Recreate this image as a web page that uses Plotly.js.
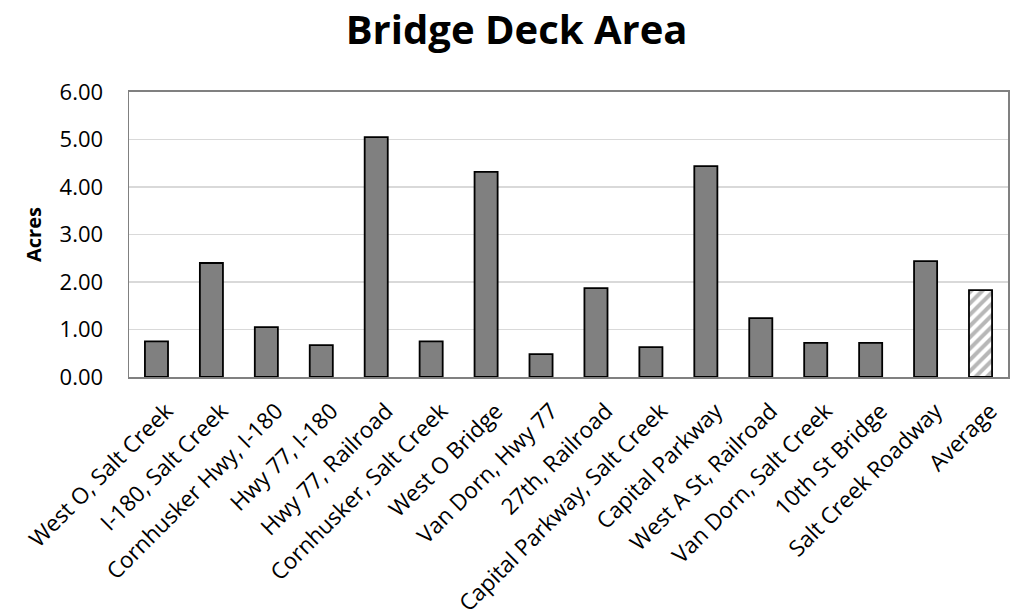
<!DOCTYPE html>
<html>
<head>
<meta charset="utf-8">
<script src="https://cdn.plot.ly/plotly-3.0.1.min.js"></script>
<style>html,body{margin:0;padding:0;background:#fff;}#chart{width:1011px;height:615px;}</style>
</head>
<body>
<div id="chart"></div>
<script>
const categories = ["West O, Salt Creek","I-180, Salt Creek","Cornhusker Hwy, I-180","Hwy 77, I-180","Hwy 77, Railroad","Cornhusker, Salt Creek","West O Bridge","Van Dorn, Hwy 77","27th, Railroad","Capital Parkway, Salt Creek","Capital Parkway","West A St, Railroad","Van Dorn, Salt Creek","10th St Bridge","Salt Creek Roadway","Average"];
const acres = [0.75,2.40,1.05,0.67,5.05,0.75,4.32,0.48,1.87,0.63,4.44,1.24,0.72,0.72,2.44,1.83];
const yTicks = [0,1,2,3,4,5,6];

const n = categories.length;
const mainCats = categories.slice(0, n - 1);
const mainVals = acres.slice(0, n - 1);
const avgCat = categories.slice(n - 1);
const avgVal = acres.slice(n - 1);

const traceMain = {
  type: "bar",
  x: mainCats,
  y: mainVals,
  width: 0.42,
  marker: {color: "#808080", line: {color: "#000000", width: 1.8}},
  hoverinfo: "x+y"
};
const traceAvg = {
  type: "bar",
  x: avgCat,
  y: avgVal,
  width: 0.42,
  marker: {
    color: "#ffffff",
    line: {color: "#000000", width: 1.8},
    pattern: {shape: "/", fillmode: "overlay", fgcolor: "#707070", size: 8, solidity: 0.5}
  },
  hoverinfo: "x+y"
};

const font = "Open Sans, Noto Sans, sans-serif";
const layout = {
  width: 1011, height: 615,
  margin: {l: 129, r: 3, t: 92, b: 238},
  paper_bgcolor: "#ffffff", plot_bgcolor: "#ffffff",
  barmode: "overlay",
  title: {text: "<b>Bridge Deck Area</b>", font: {family: font, size: 40, color: "#000"}, x: 0.511, xanchor: "center", y: 0.952, yanchor: "middle"},
  showlegend: false,
  xaxis: {
    categoryorder: "array", categoryarray: categories,
    tickangle: -45, tickfont: {family: font, size: 22.5, color: "#000"},
    ticklabelshift: 10, ticklabelstandoff: 10,
    showline: true, linecolor: "#808080", linewidth: 2, mirror: true,
    showgrid: false, ticks: "", automargin: false
  },
  yaxis: {
    range: [0, 6], tickvals: yTicks, tickformat: ".2f",
    tickfont: {family: font, size: 22, color: "#000"},
    ticklabelstandoff: 20,
    title: {text: "<b>Acres</b>", font: {family: font, size: 20, color: "#000"}, standoff: 12},
    showline: true, linecolor: "#808080", linewidth: 1.5, mirror: true,
    gridcolor: "#d9d9d9", gridwidth: 1.5, zeroline: false, ticks: "", ticklen: 0, automargin: false
  }
};

Plotly.newPlot("chart", [traceMain, traceAvg], layout, {displayModeBar: false, staticPlot: true});
</script>
</body>
</html>
